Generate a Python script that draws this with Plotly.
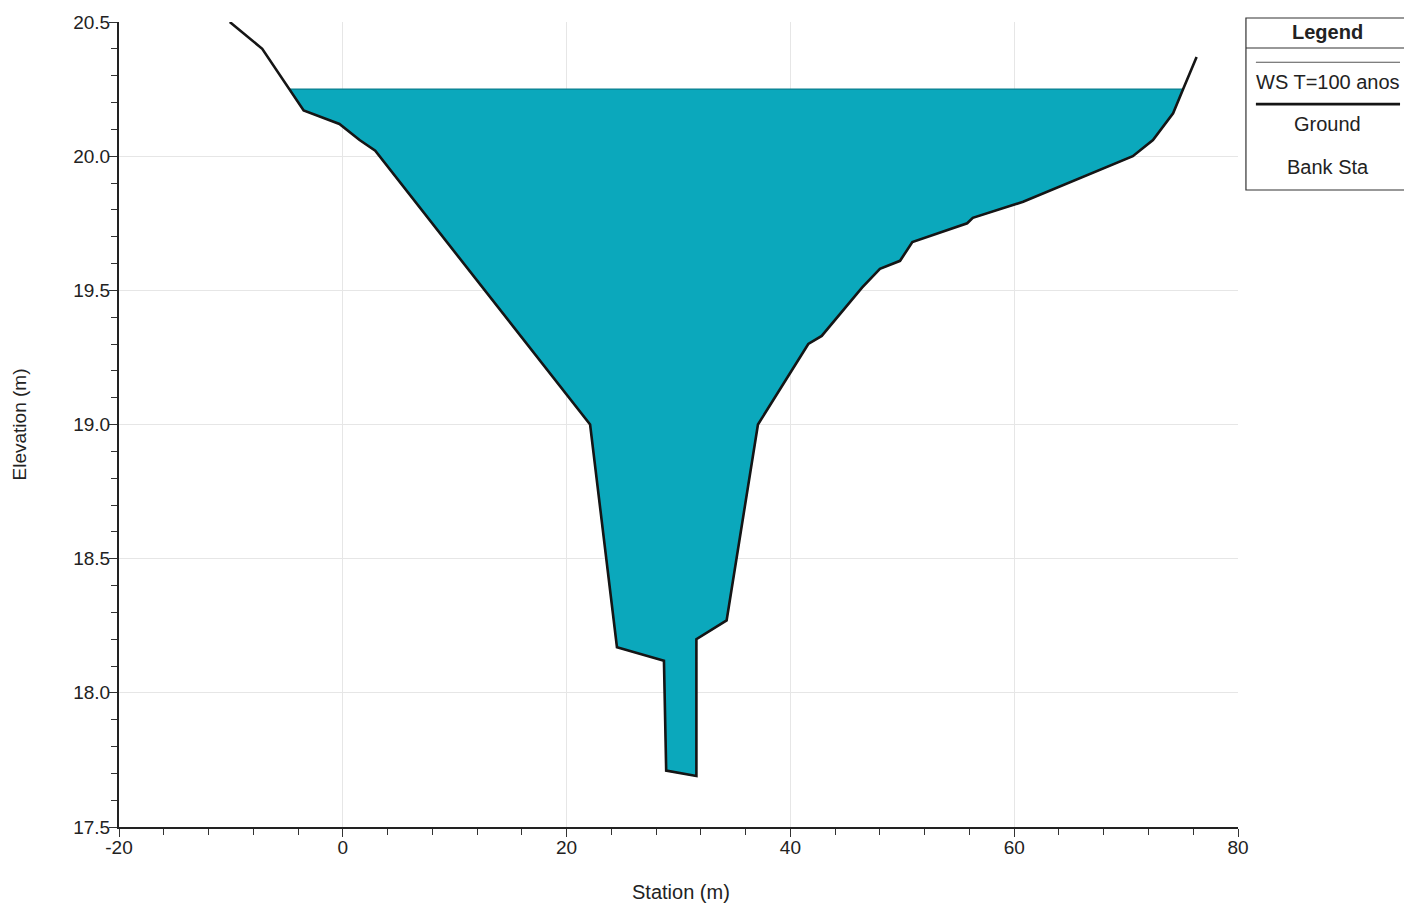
import numpy as np
import plotly.graph_objects as go

# -- datos de la seccion transversal
estacion = [-10.1, -7.2, -3.5, -0.3, 1.5, 2.9, 22.1, 24.5, 28.7, 28.9, 31.6, 31.6, 34.3, 37.1,
            41.6, 42.8, 46.4, 48.0, 49.8, 50.9, 55.8, 56.3, 60.8, 68.3, 70.6, 72.4, 74.2, 75.1, 76.3]
cota = [20.50, 20.40, 20.17, 20.12, 20.06, 20.02, 19.00, 18.17, 18.12, 17.71, 17.69, 18.20, 18.27, 19.00,
        19.30, 19.33, 19.51, 19.58, 19.61, 19.68, 19.75, 19.77, 19.83, 19.96, 20.00, 20.06, 20.16, 20.25, 20.37]
nivel_ws = 20.25
nombre_ws = 'WS T=100 anos'

x_ticks = [-20, 0, 20, 40, 60, 80]
x_labels = ['-20', '0', '20', '40', '60', '80']
y_ticks = [17.5, 18.0, 18.5, 19.0, 19.5, 20.0, 20.5]

fuente = 'Liberation Sans, Arial, sans-serif'


def poligono_agua(xs, ys, ws):
    """recorta el terreno al nivel del agua y devuelve el poligono mojado"""
    px, py = [], []
    for i in range(len(xs) - 1):
        x0, y0, x1, y1 = xs[i], ys[i], xs[i + 1], ys[i + 1]
        if y0 <= ws:
            px.append(x0)
            py.append(y0)
        if (y0 - ws) * (y1 - ws) < 0:
            t = (ws - y0) / (y1 - y0)
            px.append(x0 + t * (x1 - x0))
            py.append(ws)
    if ys[-1] <= ws:
        px.append(xs[-1])
        py.append(ys[-1])
    px.append(px[0])
    py.append(py[0])
    return px, py


wx, wy = poligono_agua(estacion, cota, nivel_ws)

fig = go.Figure()

fig.add_trace(go.Scatter(x=wx, y=wy, mode='lines', fill='toself', fillcolor='#0BA8BC',
                         line=dict(color='#0B7F8E', width=1.2), name=nombre_ws, showlegend=False,
                         hoverinfo='skip'))

fig.add_trace(go.Scatter(x=estacion, y=cota, mode='lines', line=dict(color='#151515', width=2.6),
                         name='Ground', showlegend=False))

fig.update_xaxes(range=[-20, 80], tickvals=x_ticks, ticktext=x_labels, ticks='outside', ticklen=8,
                 tickcolor='#333', showline=True, linecolor='#222', linewidth=2, showgrid=True,
                 gridcolor='#E6E6E6', zeroline=False, automargin=False, ticklabelstandoff=-6,
                 minor=dict(dtick=4, ticks='outside', ticklen=6, tickcolor='#333', showgrid=False),
                 tickfont=dict(size=19, color='#222'))

fig.update_yaxes(range=[17.5, 20.5], tickvals=y_ticks, tickformat='.1f', ticks='outside', ticklen=8,
                 tickcolor='#333', showline=True, linecolor='#222', linewidth=2, showgrid=True,
                 gridcolor='#E6E6E6', zeroline=False, automargin=False, ticklabelstandoff=-5,
                 minor=dict(dtick=0.1, ticks='outside', ticklen=6, tickcolor='#333', showgrid=False),
                 tickfont=dict(size=19, color='#222'))

# -- titulos de ejes
fig.add_annotation(xref='paper', yref='paper', x=0.502, y=-0.081, text='Station (m)', showarrow=False,
                   font=dict(family=fuente, size=20, color='#222'), xanchor='center', yanchor='middle')
fig.add_annotation(xref='paper', yref='paper', x=-0.0885, y=0.5, text='Elevation (m)', showarrow=False,
                   textangle=-90, font=dict(family=fuente, size=19, color='#222'),
                   xanchor='center', yanchor='middle')

# -- leyenda dibujada como caja (estilo HEC-RAS)
fig.add_shape(type='rect', xref='paper', yref='paper', x0=1.0071, x1=1.1537, y0=0.7913, y1=1.005,
              line=dict(color='#333', width=1.2), fillcolor='white')
fig.add_shape(type='line', xref='paper', yref='paper', x0=1.0071, x1=1.1537, y0=0.9677, y1=0.9677,
              line=dict(color='#333', width=1.2))
fig.add_shape(type='line', xref='paper', yref='paper', x0=1.016, x1=1.1448, y0=0.950, y1=0.950,
              line=dict(color='#555', width=1.2))
fig.add_shape(type='line', xref='paper', yref='paper', x0=1.016, x1=1.1448, y0=0.898, y1=0.898,
              line=dict(color='#151515', width=2.6))
for texto, yy, neg in [('Legend', 0.9876, True), (nombre_ws, 0.9255, False),
                       ('Ground', 0.8733, False), ('Bank Sta', 0.8199, False)]:
    fig.add_annotation(xref='paper', yref='paper', x=1.0804, y=yy, text=f'<b>{texto}</b>' if neg else texto,
                       showarrow=False, font=dict(family=fuente, size=20, color='#222'),
                       xanchor='center', yanchor='middle')

fig.update_layout(width=1404, height=898, plot_bgcolor='white', paper_bgcolor='white',
                  font=dict(family=fuente, color='#222'),
                  margin=dict(l=111, r=174, t=14, b=79, autoexpand=False), showlegend=False)

fig.write_html('out.html')
